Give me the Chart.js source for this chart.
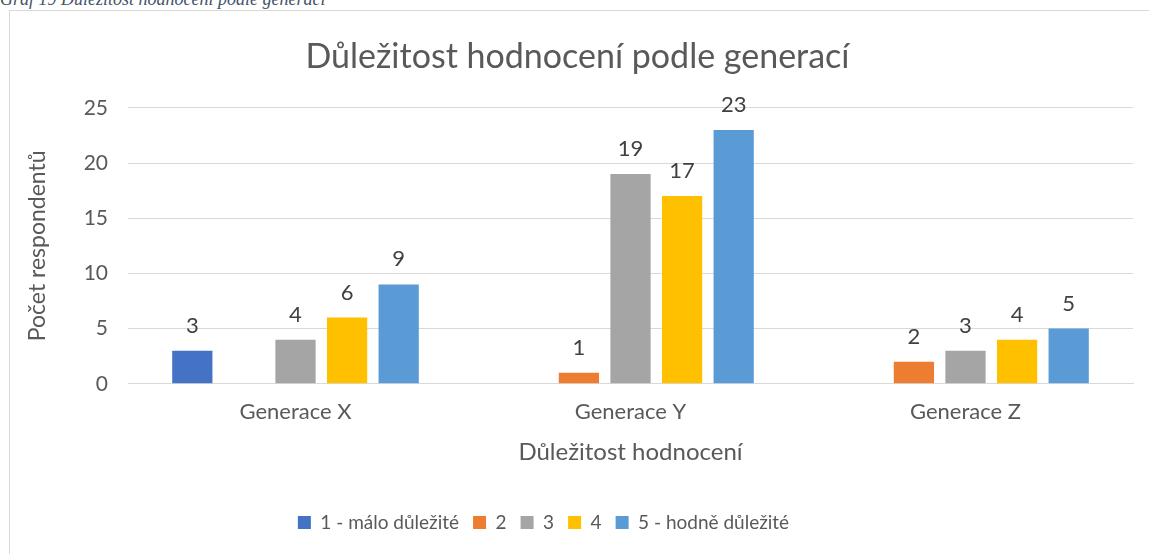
<!DOCTYPE html>
<html>
<head>
<meta charset="utf-8">
<script src="https://cdn.jsdelivr.net/npm/chart.js@4"></script>
<style>
  html, body { margin: 0; padding: 0; background: #fff; overflow: hidden; }
  #caption { position: absolute; left: 0; top: -10px; font: italic 18px "Liberation Serif", serif; color: #44546A; white-space: nowrap; line-height: 18px; }
  #frame { position: absolute; left: 9px; top: 10px; width: 1160px; height: 570px; border: 1px solid #d9d9d9; }
  #wrap { position: absolute; left: 0; top: 0; width: 1149px; height: 554px; }
</style>
</head>
<body>
<div id="caption">Graf 19 Důležitost hodnocení podle generací</div>
<div id="frame"></div>
<div id="wrap"><canvas id="myChart"></canvas></div>
<script>
const categories = ['Generace X', 'Generace Y', 'Generace Z'];
const seriesNames = ['1 - málo důležité', '2', '3', '4', '5 - hodně důležité'];
const seriesColors = ['#4472C4', '#ED7D31', '#A5A5A5', '#FFC000', '#5B9BD5'];
const rating1 = [3, null, null];
const rating2 = [null, 1, 2];
const rating3 = [4, 19, 3];
const rating4 = [6, 17, 4];
const rating5 = [9, 23, 5];
const yTicks = [0, 5, 10, 15, 20, 25];

const fontName = 'Lato, "Open Sans", sans-serif';
const textColor = '#595959';

// labels above bars, like excel data labels
const barLabels = {
    id: 'barLabels',
    afterDatasetsDraw(chart) {
        let ctx = chart.ctx;
        ctx.save();
        ctx.font = '22px ' + fontName;
        ctx.fillStyle = '#404040';
        ctx.textAlign = 'center';
        ctx.textBaseline = 'alphabetic';
        chart.data.datasets.forEach(function (ds, i) {
            chart.getDatasetMeta(i).data.forEach(function (bar, j) {
                if (ds.data[j] == null) return;
                ctx.fillText(ds.data[j], bar.x, bar.y - 18);
            });
        });
        ctx.restore();
    }
};

// legend sits a bit left of centre in the original
const legendShift = {
    id: 'legendShift',
    afterLayout(chart) {
        chart.legend.left -= 34;
        chart.legend.right -= 34;
    }
};

let allSeries = [rating1, rating2, rating3, rating4, rating5];
let datasets = allSeries.map(function (vals, i) {
    return {
        label: seriesNames[i],
        data: vals,
        backgroundColor: seriesColors[i],
        categoryPercentage: 0.77,
        barPercentage: 0.78
    };
});

let ctx = document.getElementById('myChart').getContext('2d');
let myChart = new Chart(ctx, {
    type: 'bar',
    data: { labels: categories, datasets: datasets },
    plugins: [barLabels, legendShift],
    options: {
        responsive: true,
        maintainAspectRatio: false,
        animation: false,
        layout: { padding: { left: 22, right: 16, top: 0, bottom: 12 } },
        plugins: {
            title: {
                display: true,
                text: 'Důležitost hodnocení podle generací',
                color: textColor,
                font: { family: fontName, size: 34, weight: 'normal' },
                padding: { top: 37, bottom: 30 }
            },
            legend: {
                position: 'bottom',
                labels: {
                    color: textColor,
                    font: { family: fontName, size: 19 },
                    boxWidth: 13,
                    boxHeight: 13,
                    padding: 14
                }
            },
            tooltip: { enabled: false }
        },
        scales: {
            x: {
                grid: { display: false },
                border: { color: '#d9d9d9' },
                ticks: { color: textColor, font: { family: fontName, size: 22 }, padding: 7 },
                title: {
                    display: true,
                    text: 'Důležitost hodnocení',
                    color: textColor,
                    font: { family: fontName, size: 24 },
                    padding: { top: 6, bottom: 32 }
                }
            },
            y: {
                min: 0,
                max: 25,
                afterBuildTicks: function (axis) {
                    axis.ticks = yTicks.map(function (v) { return { value: v }; });
                },
                afterFit: function (axis) { axis.width = 106; },
                grid: { color: '#d9d9d9', drawTicks: false },
                border: { display: false },
                ticks: { color: textColor, font: { family: fontName, size: 21 }, padding: 20 },
                title: {
                    display: true,
                    text: 'Počet respondentů',
                    color: textColor,
                    font: { family: fontName, size: 23 },
                    padding: { top: 2, bottom: 4 }
                }
            }
        }
    }
});
</script>
</body>
</html>
